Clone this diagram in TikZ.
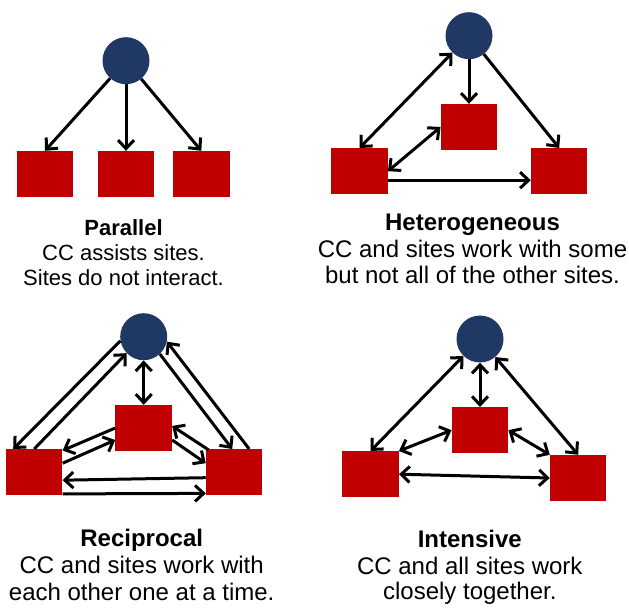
\documentclass[tikz,border=0pt]{standalone}
\usepackage{fontspec}
\setmainfont{Liberation Sans}
\usetikzlibrary{arrows.meta,calc}
\definecolor{ccblue}{RGB}{31,56,100}
\definecolor{sitered}{RGB}{192,0,0}
\begin{document}
\begin{tikzpicture}[x=1pt,y=-1pt,
  >={Straight Barb[length=8.5pt,width=16pt]},
  cc/.style={circle,fill=ccblue,minimum size=47pt,inner sep=0pt},
  site/.style={rectangle,fill=sitered,minimum width=56.5pt,minimum height=46pt,inner sep=0pt},
  link/.style={line width=3pt,->},
  both/.style={line width=3pt,<->},
  head/.style={anchor=base,inner sep=0pt,font=\bfseries\fontsize{24}{28}\selectfont},
  body/.style={anchor=base,inner sep=0pt,font=\fontsize{24}{28}\selectfont},
  headsm/.style={anchor=base,inner sep=0pt,font=\bfseries\fontsize{22}{26}\selectfont},
  bodysm/.style={anchor=base,inner sep=0pt,font=\fontsize{22}{26}\selectfont},
]
\useasboundingbox (0,0) rectangle (629,609);

% ---- Parallel ----
\node[cc] (c1) at (126,60.7) {};
\node[site] (s1a) at (45,174) {};
\node[site] (s1b) at (126,174) {};
\node[site] (s1c) at (201.3,174) {};
\draw[link] (c1) -- (s1a.north);
\draw[link] (c1) -- (s1b.north);
\draw[link] (c1) -- (s1c.north);
\node[headsm] (t1a) at (123.5,236) {Parallel};
\node[bodysm] (t1b) at (123.5,261) {CC assists sites.};
\node[bodysm] (t1c) at (123.5,286) {Sites do not interact.};

% ---- Heterogeneous ----
\node[cc] (c2) at (469,35.7) {};
\node[site] (s2m) at (469,127) {};
\node[site] (s2l) at (359.5,171.2) {};
\node[site] (s2r) at (559.2,171.2) {};
\draw[both] (c2) -- (s2l.north);
\draw[link] (c2) -- (s2m.north);
\draw[link] (c2) -- (s2r.north);
\draw[both] (s2l.east) -- (s2m.west);
\draw[link] ([yshift=-9pt]s2l.east) -- ([yshift=-9pt]s2r.west);
\node[head] (t2a) at (472.5,231) {Heterogeneous};
\node[body] (t2b) at (472.5,258) {CC and sites work with some};
\node[body] (t2c) at (472.5,284) {but not all of the other sites.};

% ---- Reciprocal ----
\node[cc] (c3) at (143.7,336.7) {};
\node[site] (s3m) at (143.7,428) {};
\node[site] (s3l) at (34.2,472.2) {};
\node[site] (s3r) at (234.2,472.2) {};
\draw[link] (c3.190) -- ([xshift=-21pt]s3l.north);
\draw[link] (s3l.north) -- (c3.224);
\draw[link] (c3.313) -- ([xshift=-2pt]s3r.north);
\draw[link] ([xshift=15pt]s3r.north) -- (c3.348);
\draw[both] (c3.south) -- (s3m.north);
\draw[link] (s3m.west) -- ([yshift=-1.5pt]s3l.north east);
\draw[link] ([yshift=9pt]s3l.east) -- ([yshift=-12pt]s3m.west);
\draw[link] ([xshift=3pt,yshift=-1pt]s3r.north west) -- ([yshift=2pt]s3m.east);
\draw[link] ([yshift=-12pt]s3m.east) -- ([yshift=9pt]s3r.west);
\draw[link] ([yshift=-5.5pt]s3r.west) -- ([yshift=-8pt]s3l.east);
\draw[link] ([yshift=1.5pt]s3l.south east) -- ([yshift=2pt]s3r.south west);
\node[head] (t3a) at (141.7,546) {Reciprocal};
\node[body] (t3b) at (141.7,573) {CC and sites work with};
\node[body] (t3c) at (141.7,600) {each other one at a time.};

% ---- Intensive ----
\node[cc] (c4) at (480,339) {};
\node[site] (s4m) at (480,430.2) {};
\node[site] (s4l) at (370.5,474.2) {};
\node[site] (s4r) at (578.2,478) {};
\draw[both] (c4) -- (s4l.north);
\draw[both] (c4.south) -- (s4m.north);
\draw[both] (c4) -- (s4r.north);
\draw[both] (s4l.north east) -- (s4m.west);
\draw[both] (s4m.east) -- (s4r.north west);
\draw[both] (s4l.east) -- (s4r.west);
\node[head] (t4a) at (469.8,547.5) {Intensive};
\node[body] (t4b) at (469.8,574) {CC and all sites work};
\node[body] (t4c) at (469.8,599) {closely together.};
\end{tikzpicture}
\end{document}
